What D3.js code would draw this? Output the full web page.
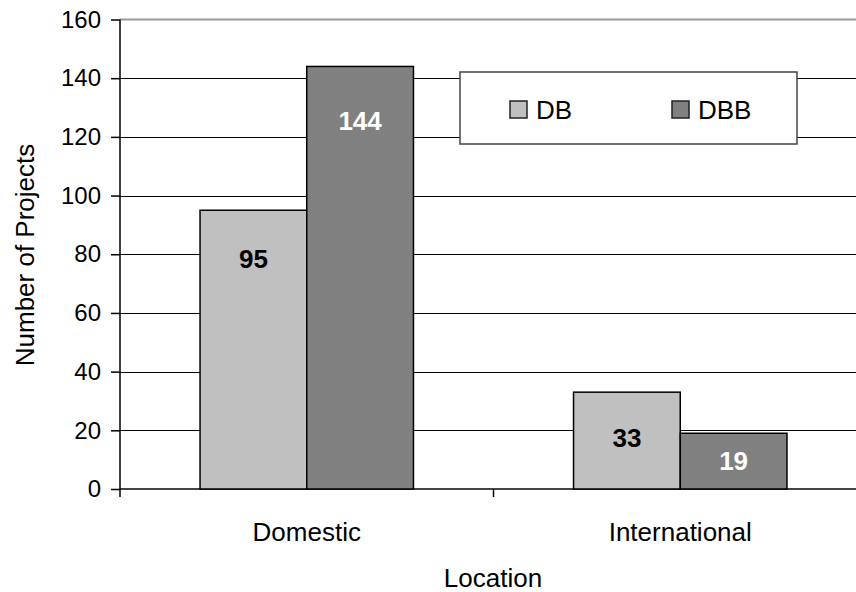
<!DOCTYPE html>
<html>
<head>
<meta charset="utf-8">
<script src="https://cdn.jsdelivr.net/npm/d3@7"></script>
<style>
  html, body { margin: 0; padding: 0; background: #fff; }
  svg { display: block; font-family: "Liberation Sans", Arial, sans-serif; }
</style>
</head>
<body>
<svg id="chart" width="856" height="592"></svg>
<script>
// Project counts by location and delivery method
const categories = ["Domestic", "International"];
const seriesNames = ["DB", "DBB"];
const dbValues = [95, 33];
const dbbValues = [144, 19];
const yTicks = [0, 20, 40, 60, 80, 100, 120, 140, 160];

const seriesColors = { DB: "#c0c0c0", DBB: "#808080" };
const labelColors = { DB: "#000", DBB: "#fff" };
// Distance of each value label below its bar's top edge (px)
const labelDrop = {
  "Domestic|DB": 48, "Domestic|DBB": 54,
  "International|DB": 45, "International|DBB": 27
};

const svg = d3.select("#chart");
const plot = { left: 120, top: 19.5, right: 867, bottom: 489 };

const x0 = d3.scaleBand().domain(categories).range([plot.left, plot.right]).paddingInner(0).paddingOuter(0);
const x1 = d3.scaleBand().domain(seriesNames).range([0, x0.bandwidth()]).paddingInner(0).paddingOuter(0.75);
const y = d3.scaleLinear().domain([0, 160]).range([plot.bottom, plot.top]);

// Gridlines
svg.append("g").selectAll("line")
  .data(yTicks.filter(t => t > 0 && t < 160))
  .join("line")
  .attr("x1", plot.left).attr("x2", 856)
  .attr("y1", d => Math.round(y(d)) + 0.5).attr("y2", d => Math.round(y(d)) + 0.5)
  .attr("stroke", "#000").attr("stroke-width", 1.2);

// Plot frame top and bottom
svg.append("line").attr("x1", plot.left).attr("x2", 856)
  .attr("y1", y(160)).attr("y2", y(160))
  .attr("stroke", "#9a9a9a").attr("stroke-width", 2);
svg.append("line").attr("x1", plot.left).attr("x2", 856)
  .attr("y1", y(0)).attr("y2", y(0))
  .attr("stroke", "#444").attr("stroke-width", 2);

// Bars
const rows = categories.map((c, i) => ({ category: c, values: [
  { category: c, series: "DB", value: dbValues[i] },
  { category: c, series: "DBB", value: dbbValues[i] }
]}));

const groups = svg.append("g").selectAll("g")
  .data(rows).join("g")
  .attr("transform", d => `translate(${x0(d.category)},0)`);

groups.selectAll("rect")
  .data(d => d.values).join("rect")
  .attr("x", d => x1(d.series))
  .attr("y", d => y(d.value))
  .attr("width", x1.bandwidth())
  .attr("height", d => y(0) - y(d.value))
  .attr("fill", d => seriesColors[d.series])
  .attr("stroke", "#000").attr("stroke-width", 1.5);

groups.selectAll("text")
  .data(d => d.values).join("text")
  .attr("x", d => x1(d.series) + x1.bandwidth() / 2)
  .attr("y", d => y(d.value) + labelDrop[d.category + "|" + d.series])
  .attr("dy", "0.36em")
  .attr("text-anchor", "middle")
  .attr("font-weight", "bold")
  .attr("font-size", 26)
  .attr("fill", d => labelColors[d.series])
  .text(d => d.value);

// Y axis
const yAxis = d3.axisLeft(y).tickValues(yTicks).tickSize(9).tickPadding(10);
const gy = svg.append("g").attr("transform", `translate(${plot.left},0)`).call(yAxis);
gy.select(".domain").attr("d", `M0,${y(160)}V${y(0) + 8}`).attr("stroke", "#000").attr("stroke-width", 1.5);
gy.selectAll(".tick line").attr("stroke", "#000").attr("stroke-width", 1.5);
gy.selectAll(".tick text").attr("font-size", 24).attr("fill", "#000").attr("font-family", "Liberation Sans, Arial, sans-serif");

// X axis: labels centred in each band, ticks at band boundaries
const gx = svg.append("g");
gx.selectAll("line")
  .data([x0.bandwidth() + plot.left])
  .join("line")
  .attr("x1", d => d).attr("x2", d => d)
  .attr("y1", y(0)).attr("y2", y(0) + 8)
  .attr("stroke", "#000").attr("stroke-width", 1.5);
gx.selectAll("text")
  .data(categories).join("text")
  .attr("x", d => x0(d) + x0.bandwidth() / 2)
  .attr("y", 541)
  .attr("text-anchor", "middle")
  .attr("font-size", 26)
  .text(d => d);

// Axis titles
svg.append("text")
  .attr("x", 493).attr("y", 587)
  .attr("text-anchor", "middle").attr("font-size", 26)
  .text("Location");
svg.append("text")
  .attr("transform", "translate(34,255) rotate(-90)")
  .attr("text-anchor", "middle").attr("font-size", 26)
  .text("Number of Projects");

// Legend
const legend = svg.append("g").attr("transform", "translate(460,72)");
legend.append("rect")
  .attr("width", 337).attr("height", 72)
  .attr("fill", "#fff").attr("stroke", "#444").attr("stroke-width", 1.5);
const items = legend.selectAll("g.item")
  .data(seriesNames).join("g").attr("class", "item")
  .attr("transform", (d, i) => `translate(${50 + i * 162},29)`);
items.append("rect")
  .attr("width", 17).attr("height", 17)
  .attr("fill", d => seriesColors[d])
  .attr("stroke", "#222").attr("stroke-width", 1.5);
items.append("text")
  .attr("x", 26).attr("y", 8.5).attr("dy", "0.36em")
  .attr("font-size", 26)
  .text(d => d);
</script>
</body>
</html>
